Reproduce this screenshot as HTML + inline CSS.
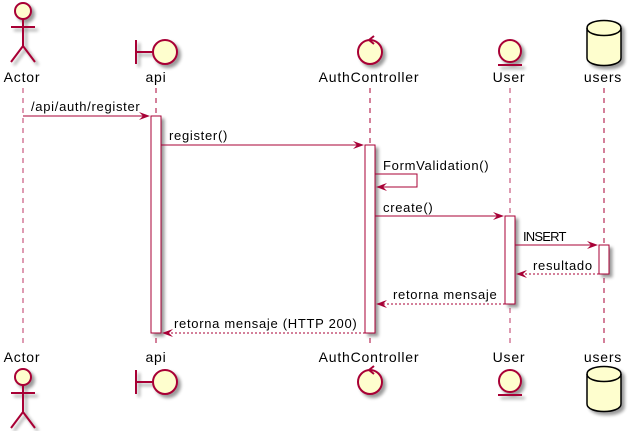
<!DOCTYPE html>
<html><head><style>body{margin:0;background:#fff}svg{display:block}text{font-family:"Liberation Sans",sans-serif;fill:#000}</style></head><body>
<svg width="628" height="431" viewBox="0 0 628 431" xmlns="http://www.w3.org/2000/svg">
<defs>
<filter id="sh" x="-20%" y="-20%" width="150%" height="150%"><feGaussianBlur in="SourceAlpha" stdDeviation="1.5"/><feOffset dx="3" dy="3"/><feComponentTransfer><feFuncA type="linear" slope="0.4"/></feComponentTransfer><feMerge><feMergeNode/><feMergeNode in="SourceGraphic"/></feMerge></filter>
</defs>
<g stroke="#A80036" stroke-width="1" stroke-dasharray="5,5" fill="none">
<line x1="23" y1="88" x2="23" y2="345" stroke="#d47a98" stroke-width="1.5"/>
<line x1="156" y1="88" x2="156" y2="345"/>
<line x1="370" y1="88" x2="370" y2="345"/>
<line x1="510" y1="88" x2="510" y2="345" stroke="#d47a98" stroke-width="1.5"/>
<line x1="604" y1="88" x2="604" y2="345"/>
</g>
<g fill="#fff" stroke="#A80036" filter="url(#sh)">
<rect x="151" y="116" width="10" height="217"/>
<rect x="365" y="145" width="10" height="188"/>
<rect x="505" y="216" width="10" height="88"/>
<rect x="599" y="245" width="10" height="29"/>
</g>
<g stroke="#A80036" stroke-width="2" fill="#FEFECE" filter="url(#sh)">
<circle cx="23" cy="11" r="8"/>
<path d="M23 19 V46 M11 27 H35 M23 46 L11 62 M23 46 L35 62" fill="none"/>
<path d="M136 40 V64 M136 52 H153" fill="none"/>
<circle cx="165" cy="52" r="12"/>
<circle cx="370" cy="52" r="12"/>
<circle cx="510" cy="51" r="11"/>
<path d="M498 65 H522" fill="none"/>
</g>
<path d="M369 40 L374 36 M369 40 L374 44" stroke="#A80036" stroke-width="2" fill="none"/>
<g filter="url(#sh)"><path d="M587 28 C587 18 621 18 621 28 V58 C621 68 587 68 587 58 Z" fill="#FEFECE" stroke="#000" stroke-width="1.5"/><path d="M587 28 C587 38 621 38 621 28" fill="none" stroke="#000" stroke-width="1.5"/></g>
<g stroke="#A80036" stroke-width="2" fill="#FEFECE" filter="url(#sh)">
<circle cx="23" cy="377" r="8"/>
<path d="M23 385 V412 M11 393 H35 M23 412 L11 428 M23 412 L35 428" fill="none"/>
<path d="M136 370 V394 M136 382 H153" fill="none"/>
<circle cx="165" cy="382" r="12"/>
<circle cx="370" cy="382" r="12"/>
<circle cx="510" cy="381" r="11"/>
<path d="M498 395 H522" fill="none"/>
</g>
<path d="M369 370 L374 366 M369 370 L374 374" stroke="#A80036" stroke-width="2" fill="none"/>
<g filter="url(#sh)"><path d="M587 374 C587 364 621 364 621 374 V404 C621 414 587 414 587 404 Z" fill="#FEFECE" stroke="#000" stroke-width="1.5"/><path d="M587 374 C587 384 621 384 621 374" fill="none" stroke="#000" stroke-width="1.5"/></g>
<g font-size="14" text-anchor="middle" letter-spacing="0.8">
<text x="22" y="82">Actor</text><text x="156" y="82">api</text><text x="369" y="82">AuthController</text><text x="509" y="82">User</text><text x="603" y="82">users</text>
<text x="22" y="362">Actor</text><text x="156" y="362">api</text><text x="369" y="362">AuthController</text><text x="509" y="362">User</text><text x="603" y="362">users</text>
</g>
<g stroke="#A80036" fill="none">
<line x1="23" y1="116" x2="148" y2="116"/>
<line x1="161" y1="145" x2="362" y2="145"/>
<path d="M375 174 H417 V187 H378"/>
<line x1="375" y1="216" x2="502" y2="216"/>
<line x1="515" y1="245" x2="596" y2="245"/>
<line x1="599" y1="274" x2="518" y2="274" stroke-dasharray="2,2"/>
<line x1="505" y1="304" x2="378" y2="304" stroke-dasharray="2,2"/>
<line x1="365" y1="333" x2="164" y2="333" stroke-dasharray="2,2"/>
</g>
<g fill="#A80036">
<polygon points="150,116 139,112 143,116 139,120"/>
<polygon points="364,145 353,141 357,145 353,149"/>
<polygon points="376,187 387,183 383,187 387,191"/>
<polygon points="504,216 493,212 497,216 493,220"/>
<polygon points="598,245 587,241 591,245 587,249"/>
<polygon points="516,274 527,270 523,274 527,278"/>
<polygon points="376,304 387,300 383,304 387,308"/>
<polygon points="162,333 173,329 169,333 173,337"/>
</g>
<g font-size="13" letter-spacing="0.7">
<text x="31" y="111">/api/auth/register</text>
<text x="169" y="140">register()</text>
<text x="383" y="170">FormValidation()</text>
<text x="383" y="212">create()</text>
<text x="523" y="241" letter-spacing="-0.8">INSERT</text>
<text x="533" y="270">resultado</text>
<text x="393" y="299">retorna mensaje</text>
<text x="174" y="328">retorna mensaje (HTTP 200)</text>
</g>
</svg>
</body></html>
